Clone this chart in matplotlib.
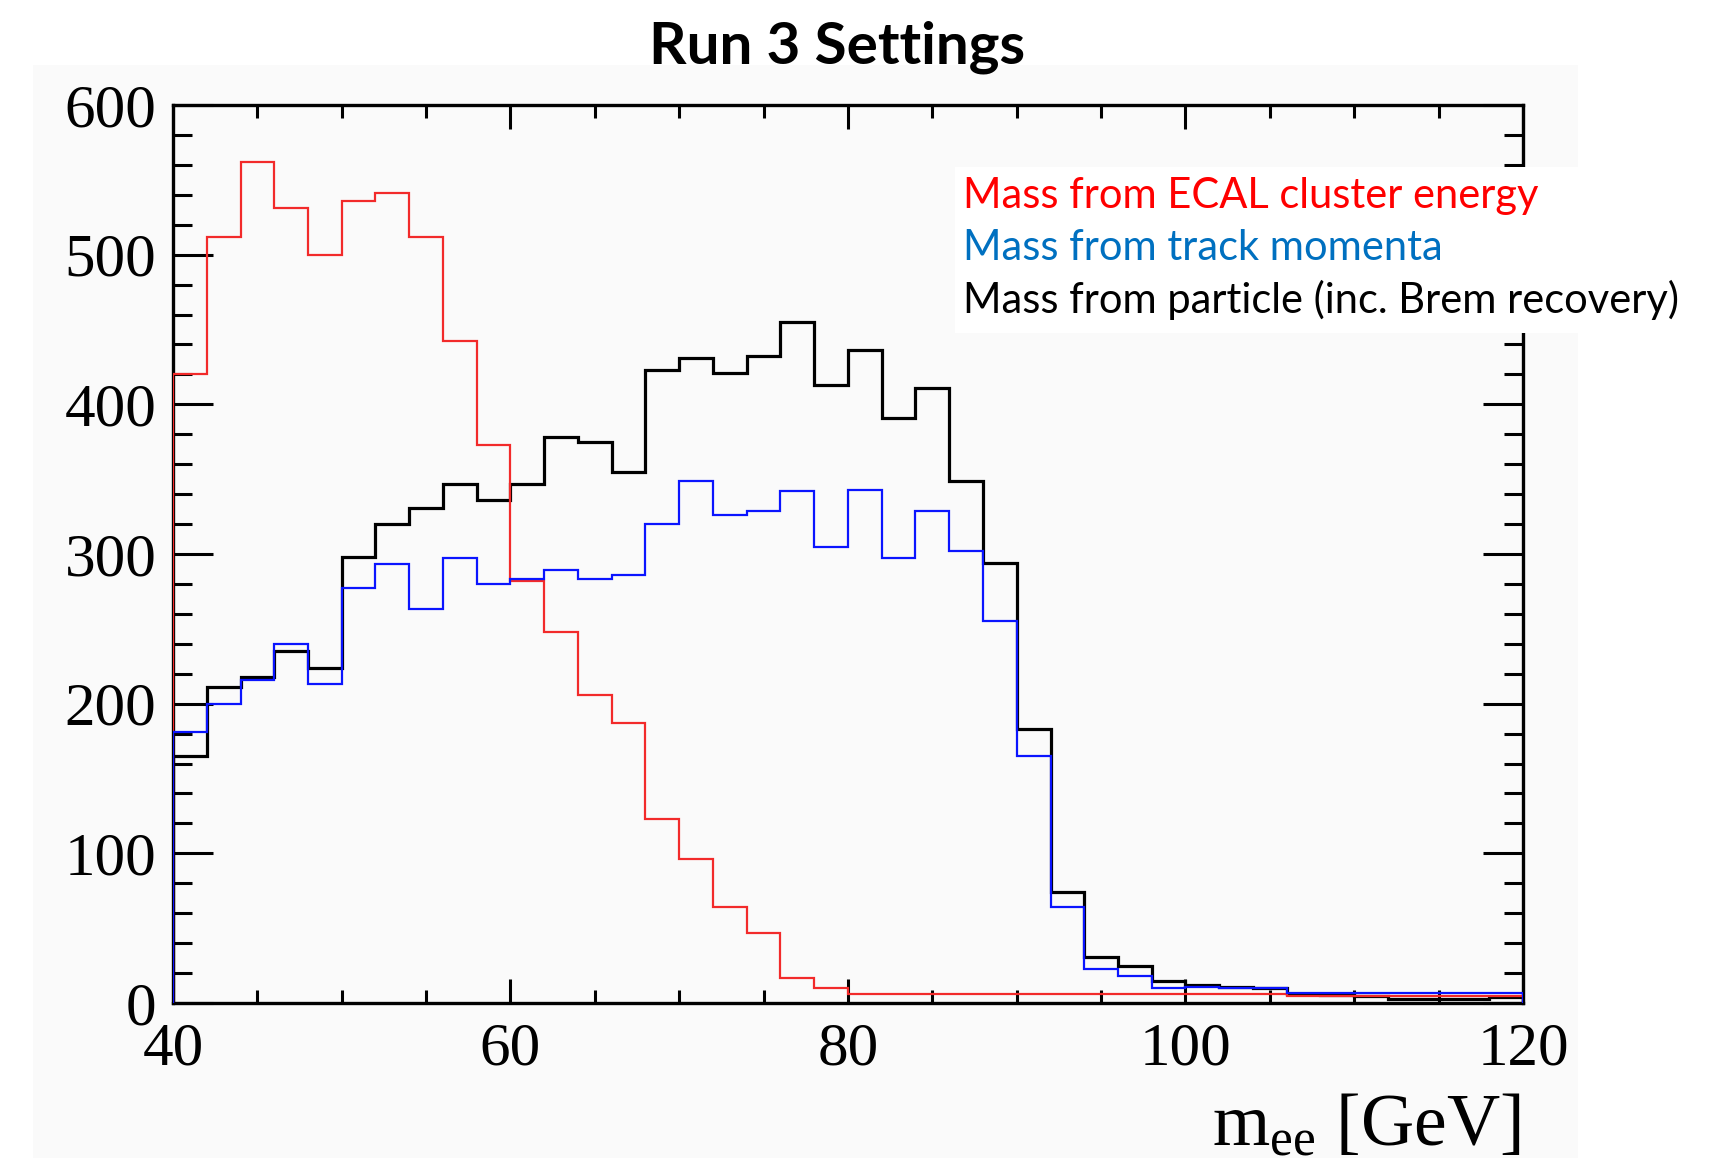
import numpy as np
import matplotlib
matplotlib.use("Agg")
import matplotlib.pyplot as plt
from matplotlib.patches import Rectangle
from matplotlib.ticker import MultipleLocator

# Dielectron invariant mass, 2 GeV bins from 40 to 120 GeV
bin_edges = np.arange(40, 122, 2)

ecal_counts = [420, 512, 562, 531, 500, 536, 541, 512, 442, 373,
               282, 248, 206, 187, 123, 96, 64, 47, 17, 10,
               6, 6, 6, 6, 6, 6, 6, 6, 6, 6,
               6, 6, 6, 5, 5, 5, 5, 5, 5, 5]
track_counts = [181, 200, 216, 240, 213, 277, 293, 263, 297, 280,
                283, 289, 283, 286, 320, 349, 326, 329, 342, 305,
                343, 297, 329, 302, 255, 165, 64, 23, 18, 10,
                11, 10, 10, 7, 7, 7, 7, 7, 7, 7]
particle_counts = [165, 211, 218, 235, 224, 298, 320, 331, 347, 336,
                   347, 378, 375, 355, 423, 431, 421, 432, 455, 413,
                   436, 391, 411, 349, 294, 183, 74, 31, 25, 15,
                   12, 11, 10, 6, 5.5, 4.5, 3, 2.7, 2.7, 4]

legend_labels = ["Mass from ECAL cluster energy",
                 "Mass from track momenta",
                 "Mass from particle (inc. Brem recovery)"]
legend_colors = ["#ff0000", "#0070c0", "#000000"]

W, H = 1733, 1159
fig = plt.figure(figsize=(W / 100, H / 100), dpi=100)
fig.patch.set_facecolor("white")

# light grey canvas behind the frame
fig.patches.append(Rectangle((33 / W, 1 - 1158 / H), (1578 - 33) / W, (1158 - 65) / H,
                             transform=fig.transFigure, facecolor="#fafafa",
                             edgecolor="none", zorder=-10))

ax = fig.add_axes([173 / W, 1 - 1003 / H, (1523 - 173) / W, (1003 - 105) / H])
ax.set_facecolor("none")

ax.stairs(particle_counts, bin_edges, color="black", linewidth=2.3, zorder=2)
ax.stairs(ecal_counts, bin_edges, color="#f22a2a", linewidth=1.6, zorder=3)
ax.stairs(track_counts, bin_edges, color="#0a14ff", linewidth=1.6, zorder=4)

ax.set_xlim(40, 120)
ax.set_ylim(0, 600)

ax.xaxis.set_major_locator(MultipleLocator(20))
ax.xaxis.set_minor_locator(MultipleLocator(5))
ax.yaxis.set_major_locator(MultipleLocator(100))
ax.yaxis.set_minor_locator(MultipleLocator(20))

for s in ax.spines.values():
    s.set_linewidth(2.4)

ax.tick_params(axis="both", which="both", direction="in", top=True, right=True,
               width=2.2, color="black")
ax.tick_params(axis="y", which="major", length=29, pad=12)
ax.tick_params(axis="y", which="minor", length=14)
ax.tick_params(axis="x", which="major", length=17, pad=14)
ax.tick_params(axis="x", which="minor", length=9.5)

for lab in ax.get_xticklabels() + ax.get_yticklabels():
    lab.set_fontfamily("Liberation Serif")
    lab.set_fontsize(44)

plt.rcParams["mathtext.fontset"] = "custom"
plt.rcParams["mathtext.rm"] = "Liberation Serif"
plt.rcParams["mathtext.it"] = "Liberation Serif:italic"

fig.text(1520 / W, 1 - 1145 / H, r"m$_{\mathrm{ee}}$ [GeV]", ha="right", va="baseline",
         fontsize=53, family="Liberation Serif")

# title
fig.text(837 / W, 1 - 64 / H, "Run 3 Settings", ha="center", va="baseline",
         fontsize=42, fontweight="bold", family=["Liberation Sans Narrow", "Lato", "DejaVu Sans"])

# legend box covering the right side of the frame
fig.patches.append(Rectangle((955 / W, 1 - 333 / H), 1 - 955 / W, (333 - 167) / H,
                             transform=fig.transFigure, facecolor="white",
                             edgecolor="none", zorder=5))
for i, (txt, col) in enumerate(zip(legend_labels, legend_colors)):
    y_px = 208 + i * 52.5
    fig.text(963 / W, 1 - y_px / H, txt, color=col, ha="left", va="baseline",
             fontsize=30, family=["Lato", "DejaVu Sans"], zorder=6)

fig.savefig("out.png", dpi=100)
